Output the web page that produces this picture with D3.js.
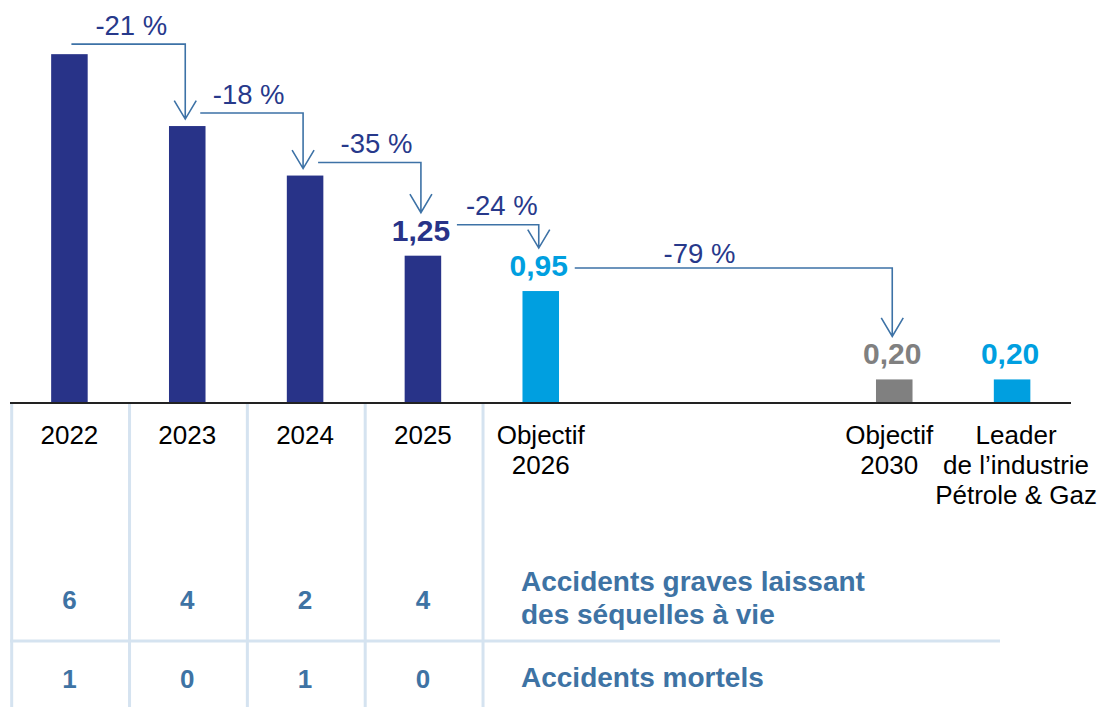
<!DOCTYPE html>
<html>
<head>
<meta charset="utf-8">
<script src="https://cdn.jsdelivr.net/npm/d3@7"></script>
<style>
  html, body { margin: 0; padding: 0; background: #fff; }
  svg { display: block; font-family: "Liberation Sans", Arial, sans-serif; }
</style>
</head>
<body>
<div id="chart"></div>
<script>
    // slots on the x axis (two empty slots between 2026 and 2030)
    const slots = ["2022", "2023", "2024", "2025", "Objectif 2026", "gap1", "gap2", "Objectif 2030", "Leader"];

    const barKeys = ["2022", "2023", "2024", "2025", "Objectif 2026", "Objectif 2030", "Leader"];
    const barLabels = [
        ["2022"], ["2023"], ["2024"], ["2025"],
        ["Objectif", "2026"],
        ["Objectif", "2030"],
        ["Leader", "de l’industrie", "Pétrole & Gaz"]
    ];
    const barValues = [2.96, 2.35, 1.93, 1.25, 0.95, 0.20, 0.20];
    const barKinds = ["actual", "actual", "actual", "actual", "target", "target2030", "benchmark"];
    const valueLabels = [null, null, null, "1,25", "0,95", "0,20", "0,20"];

    const changes = [
        { from: "2022", to: "2023", label: "-21 %" },
        { from: "2023", to: "2024", label: "-18 %" },
        { from: "2024", to: "2025", label: "-35 %" },
        { from: "2025", to: "Objectif 2026", label: "-24 %" },
        { from: "Objectif 2026", to: "Objectif 2030", label: "-79 %" }
    ];

    const tableYears = ["2022", "2023", "2024", "2025"];
    const seriousAccidents = [6, 4, 2, 4];
    const fatalAccidents = [1, 0, 1, 0];
    const rowLabels = [["Accidents graves laissant", "des séquelles à vie"], ["Accidents mortels"]];

    const width = 1100;
    const height = 707;
    const baseY = 403;

    const colors = {
        actual: "#283388",
        target: "#009FE0",
        target2030: "#808080",
        benchmark: "#009FE0"
    };
    const arrowColor = "#3D72A6";
    const pctColor = "#27398B";
    const tableColor = "#3E73A4";
    const gridColor = "#D5E3F0";

    const svg = d3.select("#chart")
        .append("svg")
        .attr("width", width)
        .attr("height", height);

    const x = d3.scaleBand()
        .domain(slots)
        .range([10.5, 1071])
        .paddingInner(0.69)
        .paddingOuter(0.345);

    const y = d3.scaleLinear()
        .domain([0, 3])
        .range([baseY, baseY - 3 * 117.85]);

    const cx = key => x(key) + x.bandwidth() / 2;

    const bars = barKeys.map((k, i) => ({
        key: k, value: barValues[i], kind: barKinds[i], label: valueLabels[i], axis: barLabels[i]
    }));
    const byKey = new Map(bars.map(d => [d.key, d]));

    // table grid
    const step = x.step();
    const grid = svg.append("g").attr("stroke", gridColor).attr("stroke-width", 3);
    d3.range(5).forEach(i => {
        const gx = 10.5 + step * i + 1.2;
        grid.append("line")
            .attr("x1", gx).attr("x2", gx)
            .attr("y1", baseY).attr("y2", height);
    });
    grid.append("line")
        .attr("x1", 10).attr("x2", 1000)
        .attr("y1", 641).attr("y2", 641);

    // bars
    svg.selectAll("rect.bar")
        .data(bars)
        .enter()
        .append("rect")
        .attr("class", "bar")
        .attr("x", d => x(d.key))
        .attr("width", x.bandwidth())
        .attr("y", d => y(d.value))
        .attr("height", d => y(0) - y(d.value))
        .attr("fill", d => colors[d.kind]);

    // baseline
    svg.append("line")
        .attr("x1", 10).attr("x2", 1071)
        .attr("y1", baseY).attr("y2", baseY)
        .attr("stroke", "#222")
        .attr("stroke-width", 2);

    // value labels
    svg.selectAll("text.value")
        .data(bars.filter(d => d.label))
        .enter()
        .append("text")
        .attr("class", "value")
        .attr("x", d => cx(d.key) - 2)
        .attr("y", d => y(d.value) - 15)
        .attr("text-anchor", "middle")
        .attr("font-size", 30)
        .attr("font-weight", "bold")
        .attr("fill", d => colors[d.kind])
        .text(d => d.label);

    // axis labels (small nudges to follow the original placement)
    const labelShift = { "Objectif 2030": -5, "Leader": 4 };
    const axisText = svg.selectAll("text.axis")
        .data(bars)
        .enter()
        .append("text")
        .attr("class", "axis")
        .attr("text-anchor", "middle")
        .attr("font-size", 26)
        .attr("fill", "#000");
    axisText.each(function (d) {
        const t = d3.select(this);
        d.axis.forEach((line, j) => {
            t.append("tspan")
                .attr("x", cx(d.key) + (labelShift[d.key] || 0))
                .attr("y", 444 + j * 30)
                .text(line);
        });
    });

    // change arrows
    const arrows = svg.append("g");
    changes.forEach((c, i) => {
        const a = byKey.get(c.from);
        const b = byKey.get(c.to);
        const x0 = i === 0 ? cx(a.key) + 2 : cx(a.key) + (a.label ? 34 : 13);
        const lineY = a.label ? y(a.value) - (i === 3 ? 31 : 23) : y(a.value) - (i === 0 ? 10 : 13);
        const x1 = cx(b.key) - 2;
        const tipY = y(b.value) - (b.label ? 43 : 7);

        arrows.append("path")
            .attr("d", `M${x0},${lineY}H${x1}V${tipY}M${x1 - 11},${tipY - 18.5}L${x1},${tipY}L${x1 + 11},${tipY - 18.5}`)
            .attr("fill", "none")
            .attr("stroke", arrowColor)
            .attr("stroke-width", 1.6);

        const dx = [3, -3, 7, 4, -34][i];
        arrows.append("text")
            .attr("x", (x0 + x1) / 2 + dx)
            .attr("y", lineY - (i === 4 ? 5 : 9.5))
            .attr("text-anchor", "middle")
            .attr("font-size", 27.5)
            .attr("fill", pctColor)
            .text(c.label);
    });

    // table values
    const rows = [seriousAccidents, fatalAccidents];
    const rowBase = [608.5, 687.5];
    rows.forEach((vals, r) => {
        svg.append("g")
            .selectAll("text")
            .data(vals)
            .enter()
            .append("text")
            .attr("x", (_, i) => cx(tableYears[i]))
            .attr("y", rowBase[r])
            .attr("text-anchor", "middle")
            .attr("font-size", 26)
            .attr("font-weight", "bold")
            .attr("fill", tableColor)
            .text(d => d);
    });

    // row labels
    const labelBase = [590.5, 687];
    rowLabels.forEach((lines, r) => {
        const t = svg.append("text")
            .attr("font-size", 28)
            .attr("font-weight", "bold")
            .attr("fill", tableColor);
        lines.forEach((line, j) => {
            t.append("tspan")
                .attr("x", 521)
                .attr("y", labelBase[r] + j * 33.5)
                .text(line);
        });
    });
</script>
</body>
</html>
